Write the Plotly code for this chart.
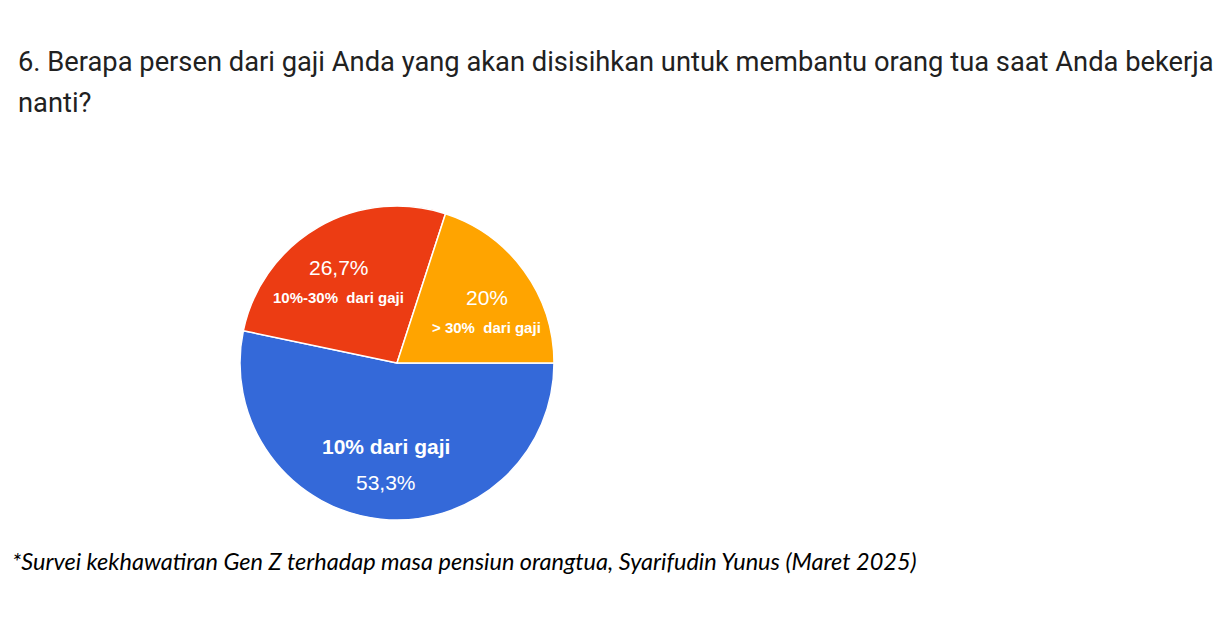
import math

import plotly.graph_objects as go

W, H = 1229, 629
PAGE_PAD = 8  # browser body margin around the plot div

TITLE_LINES = [
    "6. Berapa persen dari gaji Anda yang akan disisihkan untuk membantu orang tua saat Anda bekerja",
    "nanti?",
]
FOOTNOTE = "*Survei kekhawatiran Gen Z terhadap masa pensiun orangtua, Syarifudin Yunus (Maret 2025)"

labels = ["10% dari gaji", "10%-30%  dari gaji", "> 30%  dari gaji"]
values = [53.3, 26.7, 20.0]
pct_text = ["53,3%", "26,7%", "20%"]
colors = ["#3469D9", "#EC3C13", "#FFA400"]

# pie geometry in screen pixels
CX, CY, R = 397, 363, 157
# nudge of each label block from its mid-angle anchor
label_nudge = [(0, 0), (-7, 8), (7, 9)]


def px(x):
    return (x - PAGE_PAD) / W


def py(y):
    return 1 - (y - PAGE_PAD) / H


fig = go.Figure(go.Pie(
    labels=labels,
    values=values,
    sort=False,
    direction="clockwise",
    rotation=90,
    marker=dict(colors=colors, line=dict(color="#ffffff", width=1.5)),
    textinfo="none",
    hoverinfo="label+percent",
    showlegend=False,
    domain=dict(x=[px(CX - R), px(CX + R)], y=[py(CY + R), py(CY - R)]),
))

annotations = []

# slice labels, placed at the slice's mid angle
total = sum(values)
start = 0.0
for i, v in enumerate(values):
    span = v / total * 360
    mid = math.radians(start - span / 2)
    start -= span
    ax = CX + 0.65 * R * math.cos(mid) + label_nudge[i][0]
    ay = CY - 0.65 * R * math.sin(mid) + label_nudge[i][1]
    pct = dict(text=pct_text[i], size=21, bold=False)
    lab = dict(text=labels[i], size=21 if i == 0 else 15, bold=True)
    lines = [lab, pct] if i == 0 else [pct, lab]
    gap = 18 if i == 0 else 15
    for j, ln in enumerate(lines):
        t = ln["text"].replace("  ", "&nbsp; ")
        if ln["bold"]:
            t = f"<b>{t}</b>"
        annotations.append(dict(
            x=px(ax), y=py(ay + (j * 2 - 1) * gap),
            xref="paper", yref="paper",
            text=t,
            showarrow=False,
            xanchor="center", yanchor="middle",
            font=dict(family="Liberation Sans, Arial, sans-serif", size=ln["size"], color="#ffffff"),
        ))

for k, line in enumerate(TITLE_LINES):
    annotations.append(dict(
        x=px(16), y=py(62 + k * 41),
        xref="paper", yref="paper",
        text=line, showarrow=False,
        xanchor="left", yanchor="middle",
        font=dict(family="Roboto, sans-serif", size=27.3, color="#212121"),
    ))

annotations.append(dict(
    x=px(10), y=py(561),
    xref="paper", yref="paper",
    text=f"<i>{FOOTNOTE}</i>", showarrow=False,
    xanchor="left", yanchor="middle",
    font=dict(family="Lato, sans-serif", size=23.5, color="#000000"),
))

fig.update_layout(
    width=W, height=H,
    margin=dict(l=0, r=0, t=0, b=0),
    paper_bgcolor="#ffffff",
    plot_bgcolor="#ffffff",
    annotations=annotations,
)

fig.write_html("out.html")
